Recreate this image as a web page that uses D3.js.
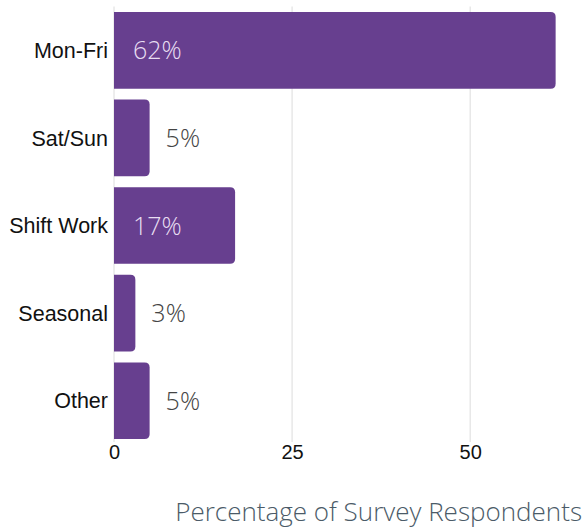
<!DOCTYPE html>
<html>
<head>
<meta charset="utf-8">
<script src="https://cdn.jsdelivr.net/npm/d3@7"></script>
<style>
  html, body { margin: 0; padding: 0; background: #fff; }
  svg { display: block; }
</style>
</head>
<body>
<svg id="chart" width="586" height="532"></svg>
<script>
// Work schedule categories and their share of respondents (%)
const categories = ["Mon-Fri", "Sat/Sun", "Shift Work", "Seasonal", "Other"];
const percentages = [62, 5, 17, 3, 5];
const tickValues = [0, 25, 50];
const axisTitle = "Percentage of Survey Respondents";

const svg = d3.select("#chart");
const barColor = "#673f8f";

const x = d3.scaleLinear().domain([0, 65]).range([114, 577]);
const y = d3.scaleBand().domain(categories).range([6.5, 444.5])
  .paddingInner(0.125).paddingOuter(0.0625);

const data = categories.map((c, i) => ({ cat: c, value: percentages[i] }));

// Vertical gridlines
svg.append("g").selectAll("line").data(tickValues.slice(1)).join("line")
  .attr("x1", d => x(d)).attr("x2", d => x(d))
  .attr("y1", 6.5).attr("y2", 442)
  .attr("stroke", "#dcdcdc").attr("stroke-width", 1);

// Baseline
svg.append("line")
  .attr("x1", x(0)).attr("x2", x(0)).attr("y1", 6.5).attr("y2", 442)
  .attr("stroke", "#dcdcdc");

// Bars with rounded right end
const r = 5;
function barPath(d) {
  const x0 = x(0), x1 = x(d.value), y0 = y(d.cat), h = y.bandwidth();
  const rr = Math.min(r, (x1 - x0) / 2);
  return `M${x0},${y0}H${x1 - rr}Q${x1},${y0} ${x1},${y0 + rr}V${y0 + h - rr}Q${x1},${y0 + h} ${x1 - rr},${y0 + h}H${x0}Z`;
}
svg.append("g").selectAll("path").data(data).join("path")
  .attr("d", barPath)
  .attr("fill", barColor);

// Value labels: inside long bars, beside short ones
svg.append("g").selectAll("text").data(data).join("text")
  .attr("x", d => d.value > 10 ? x(0) + 19 : x(d.value) + 16)
  .attr("y", d => y(d.cat) + y.bandwidth() / 2)
  .attr("dy", "0.36em")
  .attr("font-family", "'Open Sans', sans-serif")
  .attr("font-weight", 300)
  .attr("font-size", 25)
  .attr("fill", d => d.value > 10 ? "#e8def2" : "#444")
  .text(d => d.value + "%");

// Category labels
svg.append("g").selectAll("text").data(categories).join("text")
  .attr("x", 108)
  .attr("y", d => y(d) + y.bandwidth() / 2)
  .attr("dy", "0.36em")
  .attr("text-anchor", "end")
  .attr("font-family", "'Liberation Sans', Arial, sans-serif")
  .attr("font-size", 21.5)
  .attr("fill", "#111")
  .text(d => d);

// X axis tick labels
const xAxis = d3.axisBottom(x).tickValues(tickValues).tickSize(0).tickPadding(0);
const gx = svg.append("g").attr("transform", "translate(0,445)").call(xAxis);
gx.select(".domain").remove();
gx.selectAll("text")
  .attr("dy", "0.71em")
  .attr("font-family", "'Liberation Sans', Arial, sans-serif")
  .attr("font-size", 20)
  .attr("fill", "#111");

// Axis title
svg.append("text")
  .attr("x", 582).attr("y", 521)
  .attr("text-anchor", "end")
  .attr("font-family", "'Open Sans', sans-serif")
  .attr("font-weight", 300)
  .attr("font-size", 26)
  .attr("fill", "#4b5b68")
  .text(axisTitle);
</script>
</body>
</html>
